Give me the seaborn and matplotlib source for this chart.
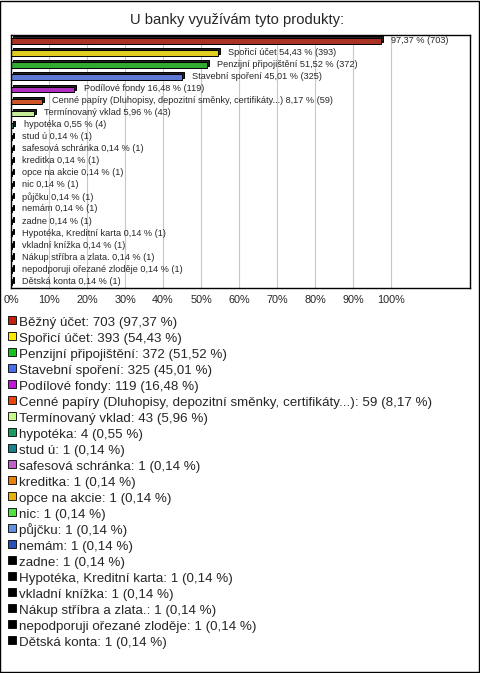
import matplotlib
matplotlib.use("Agg")
import matplotlib.pyplot as plt
import matplotlib.transforms as mtransforms
from matplotlib.lines import Line2D
from matplotlib.patches import Rectangle
import seaborn as sns

# Données
names = ["Běžný účet", "Spořicí účet", "Penzijní připojištění", "Stavební spoření",
         "Podílové fondy", "Cenné papíry (Dluhopisy, depozitní směnky, certifikáty...)",
         "Termínovaný vklad", "hypotéka", "stud ú", "safesová schránka", "kreditka",
         "opce na akcie", "nic", "půjčku", "nemám", "zadne", "Hypotéka, Kreditní karta",
         "vkladní knížka", "Nákup stříbra a zlata.", "nepodporuji ořezané zloděje",
         "Dětská konta"]
counts = [703, 393, 372, 325, 119, 59, 43, 4, 1, 1, 1, 1, 1, 1, 1, 1, 1, 1, 1, 1, 1]
pcts = [97.37, 54.43, 51.52, 45.01, 16.48, 8.17, 5.96, 0.55, 0.14, 0.14, 0.14, 0.14,
        0.14, 0.14, 0.14, 0.14, 0.14, 0.14, 0.14, 0.14, 0.14]
colors = ["#c0220f", "#ffe800", "#1cc01c", "#4a6ee8", "#c218d8", "#e8480e", "#c8f88a",
          "#189a60", "#1a7f8e", "#c060c8", "#e88010", "#e8b010", "#50e040", "#6090e0",
          "#2850b8", "#000000", "#000000", "#000000", "#000000", "#000000", "#000000"]
xticks = list(range(0, 101, 10))


def fmt(p):
    return f"{p:.2f}".replace(".", ",")


sns.set_style("white")
plt.rcParams['font.family'] = ['Liberation Sans', 'DejaVu Sans']

fig = plt.figure(figsize=(4.8, 6.73), dpi=100)
ax = fig.add_axes([11 / 480, 1 - 288 / 673, 459 / 480, 253 / 673])

sns.barplot(x=pcts, y=names, hue=names, palette=colors, legend=False, orient="h",
            width=0.45, edgecolor="black", linewidth=0.7, ax=ax)

# petit effet 3D : ombre décalée derrière chaque barre
shift = mtransforms.offset_copy(ax.transData, fig=fig, x=2, y=2, units="dots")
for bar in list(ax.patches):
    sh = Rectangle(bar.get_xy(), bar.get_width(), bar.get_height(), transform=shift,
                   facecolor="#202020", edgecolor="black", linewidth=0.7,
                   zorder=bar.get_zorder() - 0.1)
    ax.add_patch(sh)

# étiquettes des barres (la première sans nom, comme sur l'original)
for i, (n, c, p) in enumerate(zip(names, counts, pcts)):
    lab = f"{fmt(p)} % ({c})" if i == 0 else f"{n} {fmt(p)} % ({c})"
    ax.annotate(lab, xy=(p, i), xytext=(7.5, 0.5), textcoords="offset points",
                va="center", ha="left", fontsize=6.6)

ax.set_xlim(0, 120.8)
ax.set_ylim(len(names) - 0.5, -0.5)
ax.set_xticks(xticks)
ax.set_xticklabels([f"{t}%" for t in xticks], fontsize=7.8)
ax.tick_params(axis="x", length=0, pad=5)
ax.set_yticks([])
ax.set_ylabel("")
ax.grid(axis="x", color="#c8c8c8", linewidth=0.8)
ax.set_axisbelow(True)
for s in ax.spines.values():
    s.set_color("black")
    s.set_linewidth(1)

fig.text(237 / 480, 1 - 20 / 673, "U banky využívám tyto produkty:", ha="center",
         va="center", fontsize=10.6)

# légende : carrés en marqueurs pour garder un pas régulier
handles = [Line2D([], [], linestyle="", marker="s", markersize=5.3, markerfacecolor=col,
                  markeredgecolor="black", markeredgewidth=0.6) for col in colors]
labels = [f"{n}: {c} ({fmt(p)} %)" for n, c, p in zip(names, counts, pcts)]
fig.legend(handles, labels, loc="upper left", bbox_to_anchor=(7 / 480, 1 - 314 / 673),
           frameon=False, fontsize=9.6, handlelength=0.7, handleheight=1.32,
           handletextpad=0.2, labelspacing=0.09, borderaxespad=0, borderpad=0)

fig.patches.append(Rectangle((0.001, 0.001), 0.997, 0.997, transform=fig.transFigure,
                             fill=False, edgecolor="black", linewidth=1))

fig.savefig("out.png", dpi=100)
